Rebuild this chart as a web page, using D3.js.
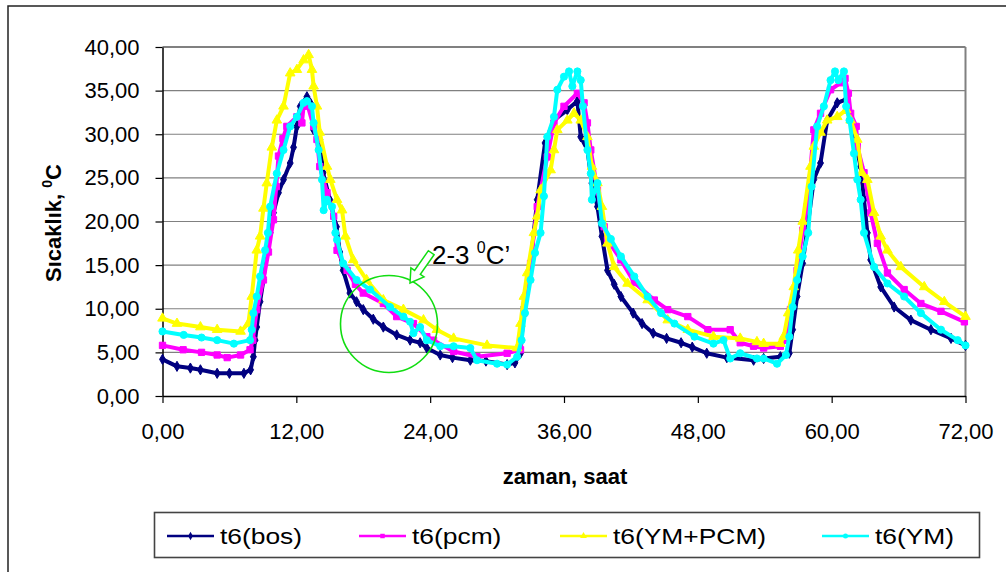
<!DOCTYPE html>
<html><head><meta charset="utf-8">
<script src="https://cdn.jsdelivr.net/npm/d3@7"></script>
<style>
html,body{margin:0;padding:0;background:#fff;}
svg text{font-family:"Liberation Sans",Arial,sans-serif;}
</style></head>
<body>
<svg id="c" width="1006" height="572"></svg>
<script>
// ---- data (time in hours, temperature in °C) ----
const xTicks = [0, 12, 24, 36, 48, 60, 72];
const yTicks = [0, 5, 10, 15, 20, 25, 30, 35, 40];
const seriesNames = ["t6(bos)", "t6(pcm)", "t6(YM+PCM)", "t6(YM)"];

const bosT = [0,1.3,2.5,3.4,4.9,6.0,7.3,7.9,8.15,8.3,8.45,8.75,9.05,9.35,9.65,9.95,10.4,10.85,11.45,11.75,12.05,12.35,12.95,13.25,13.55,14.1,14.4,15.0,15.6,15.9,16.2,16.8,17.4,18.0,18.9,19.8,21.0,22.2,23.1,23.7,24.9,26.0,27.6,29.0,30.9,31.6,32.1,32.4,33.0,33.6,34.3,35.1,36.3,37.2,37.5,38.1,38.5,39.0,39.4,39.9,40.5,41.1,42.2,43.0,44.0,45.2,46.5,47.5,48.8,50.6,53.0,53.9,55.4,56.2,56.5,56.9,57.4,57.8,58.4,59.0,59.6,60.5,61.3,61.7,62.2,62.6,62.9,63.2,63.5,64.4,65.6,67.1,68.9,70.7,72.0];
const bosV = [4.2,3.4,3.2,3.0,2.6,2.6,2.6,3.0,4.5,6.4,7.9,10.8,13.3,16.7,18.7,21.0,23.3,24.8,26.7,28.5,30.9,33.2,34.3,33.6,30.5,29.4,25.6,22.5,19.4,16.5,14.4,11.8,10.8,9.9,8.8,7.9,7.0,6.4,6.1,5.5,4.7,4.4,4.1,4.0,3.6,3.8,4.9,10.2,15.2,22.5,29.0,31.6,32.8,33.8,29.7,28.2,24.4,21.7,18.3,14.4,12.8,11.4,9.5,8.3,7.2,6.6,6.1,5.6,4.9,4.4,4.1,4.3,4.5,4.9,7.6,11.4,15.2,19.0,24.8,26.7,31.6,33.6,34.0,32.0,28.6,26.3,22.5,18.7,15.6,12.5,10.2,8.7,7.6,6.6,5.8];

const pcmT = [0,1.85,3.5,4.9,5.8,7.0,7.85,8.1,8.45,9.05,9.5,9.95,10.2,10.4,10.8,11.15,12.05,12.5,12.65,12.95,13.55,13.85,14.1,14.75,15.35,15.65,16.55,17.3,18.0,19.8,21.0,22.5,23.7,24.3,26.1,28.2,30.9,32.1,32.4,33.0,33.6,34.5,35.1,36.0,37.2,37.8,38.1,38.4,39.0,39.6,39.9,41.1,42.3,44.1,45.3,47.1,48.9,50.9,51.8,53.0,53.9,55.4,55.9,56.3,56.9,57.4,57.8,58.4,59.0,59.9,60.8,61.2,61.5,61.7,62.2,62.3,62.9,63.5,64.1,65.0,66.5,68.0,69.8,71.9];
const pcmV = [5.8,5.3,5.0,4.7,4.4,4.7,5.3,6.4,9.9,13.3,16.5,20.2,24.0,27.5,29.5,30.9,32.0,31.3,33.2,33.6,30.9,29.4,26.3,23.3,20.6,16.7,14.4,12.8,11.8,10.6,9.1,8.3,6.8,6.4,5.1,4.5,4.9,5.3,9.5,15.2,21.7,27.4,31.3,33.2,34.7,33.6,31.3,28.2,23.6,19.4,17.9,15.6,13.0,11.0,9.9,9.1,7.6,7.6,6.1,5.7,5.5,5.7,6.4,9.9,14.4,19.0,21.7,30.5,32.4,35.1,35.9,36.4,34.7,32.4,30.9,28.6,25.6,21.0,17.5,14.1,12.2,10.6,9.7,8.5];

const ympcmT = [0,1.3,3.4,4.9,7.0,7.7,8.0,8.45,8.75,9.05,9.35,9.8,10.25,10.85,11.45,12.05,12.65,13.1,13.4,13.55,13.85,14.1,14.75,15.05,15.65,16.1,16.4,17.1,18.3,19.8,21.6,23.4,24.6,26.1,29.1,31.8,32.1,32.4,32.7,33.3,33.6,33.9,34.8,35.1,35.4,36.3,36.9,37.5,38.1,38.5,39.0,39.4,39.9,40.5,41.7,43.5,45.3,47.1,49.4,51.8,53.3,53.9,55.4,55.7,56.1,56.6,57.0,57.4,58.1,58.4,59.0,59.6,60.5,61.3,61.7,62.3,62.7,63.2,63.8,64.4,65.0,66.2,68.3,70.1,72.0];
const ympcmV = [8.9,8.3,7.9,7.6,7.4,8.3,11.4,16.7,18.3,21.5,24.4,28.5,31.6,33.2,37.0,37.4,38.5,39.1,37.4,35.5,33.2,30.2,26.3,24.8,22.5,21.3,18.3,15.6,13.3,11.0,9.9,8.7,7.6,6.6,5.8,5.5,8.3,11.4,14.1,18.7,20.6,23.6,25.9,28.2,30.5,31.6,32.4,31.6,29.7,26.3,24.4,21.7,17.5,14.8,12.9,11.0,8.7,7.6,6.8,6.6,6.2,6.0,6.0,6.8,9.5,12.5,16.7,20.0,26.3,28.6,30.2,31.6,32.0,32.8,31.6,29.4,25.6,24.8,21.0,18.3,16.7,14.8,12.5,10.8,9.1];

const ymT = [0,1.9,3.5,4.9,6.4,7.85,8.0,8.15,8.45,8.75,9.2,9.45,9.65,10.25,10.85,11.45,12.05,12.65,12.95,13.4,13.55,14.0,14.3,14.45,14.75,15.2,15.5,15.65,16.2,17.4,18.6,20.4,21.6,22.2,22.5,23.1,23.7,24.9,26.1,27.6,28.2,30.0,30.9,31.8,32.2,32.5,33.0,33.4,33.9,34.2,34.5,35.1,35.4,36.0,36.45,36.75,37.2,37.5,37.7,38.1,38.4,38.5,39.0,39.4,40.2,41.1,42.3,43.5,44.7,45.9,47.7,49.4,50.3,50.9,51.8,53.3,53.9,55.1,55.9,56.2,56.5,56.9,57.4,57.9,58.2,58.7,59.3,59.9,60.3,60.6,61.1,61.3,61.6,62.0,62.3,62.6,62.9,63.8,65.0,66.5,68.0,69.8,71.3,72.0];
const ymV = [7.4,7.0,6.7,6.4,6.0,6.4,7.6,9.5,11.4,13.7,16.7,18.7,21.7,25.5,28.2,30.9,32.0,33.6,33.8,33.2,31.3,28.2,24.8,21.3,22.5,21.7,18.7,17.9,15.2,13.3,12.2,10.2,9.1,8.5,7.2,7.9,6.4,5.7,5.7,5.5,4.1,3.7,3.6,4.5,6.4,9.5,13.3,16.4,18.7,22.9,29.7,32.0,35.1,36.6,37.2,35.5,37.2,36.2,33.2,28.2,25.5,22.5,24.4,19.8,18.0,16.0,13.7,11.4,9.5,8.3,6.8,6.0,6.4,4.3,4.9,4.3,4.3,3.7,4.7,6.8,10.2,13.3,16.0,18.7,24.0,30.9,33.2,36.2,37.2,36.2,37.2,33.2,31.6,27.8,24.8,22.5,18.7,14.8,12.9,11.4,9.5,7.6,6.4,5.8];

const seriesColors = ["#000080", "#FF00FF", "#FFFF00", "#00FFFF"];
const seriesSymbols = [d3.symbolDiamond, d3.symbolSquare, d3.symbolTriangle, d3.symbolCircle];
const seriesData = [[bosT,bosV],[pcmT,pcmV],[ympcmT,ympcmV],[ymT,ymV]];

// ---- layout ----
const svg = d3.select("#c");
const X0 = 162.5, X1 = 965.5, Y0 = 396, Y1 = 47;
const x = d3.scaleLinear().domain([0,72]).range([X0,X1]);
const y = d3.scaleLinear().domain([0,40]).range([Y0,Y1]);
const fmt = d => d3.format(".2f")(d).replace(".", ",");

// outer border
svg.append("path").attr("d","M8,572 L8,6 L1006,6").attr("fill","none").attr("stroke","#222").attr("stroke-width",1.5);

// gridlines
svg.append("g").selectAll("line").data(yTicks.filter(v=>v>0)).join("line")
  .attr("x1",X0).attr("x2",X1).attr("y1",d=>y(d)).attr("y2",d=>y(d))
  .attr("stroke","#808080").attr("stroke-width",d=>d===40?2:1.2);
// right border
svg.append("line").attr("x1",X1).attr("x2",X1).attr("y1",Y1).attr("y2",Y0).attr("stroke","#808080").attr("stroke-width",2);

// axes
const ya = svg.append("g").attr("transform",`translate(${X0},0)`)
  .call(d3.axisLeft(y).tickValues(yTicks).tickFormat(fmt).tickSize(7).tickPadding(16).tickSizeOuter(0));
const xa = svg.append("g").attr("transform",`translate(0,${Y0})`)
  .call(d3.axisBottom(x).tickValues(xTicks).tickFormat(fmt).tickSize(7).tickPadding(20).tickSizeOuter(0));
[ya,xa].forEach(a=>{
  a.select(".domain").attr("stroke","#000").attr("stroke-width",1.5);
  a.selectAll(".tick line").attr("stroke","#000").attr("stroke-width",1.2);
  a.selectAll("text").attr("font-size",22).attr("fill","#000").attr("font-family","Liberation Sans, Arial, sans-serif");
});

// series
const lineGen = d3.line().x(d=>x(d[0])).y(d=>y(d[1]));
seriesData.forEach((s,i)=>{
  const pts = s[0].map((t,k)=>[t, s[1][k]]);
  const g = svg.append("g");
  g.append("path").datum(pts).attr("d",lineGen).attr("fill","none")
    .attr("stroke",seriesColors[i]).attr("stroke-width",4).attr("stroke-linejoin","round");
  g.selectAll("path.m").data(pts).join("path").attr("class","m")
    .attr("transform",d=>`translate(${x(d[0])},${y(d[1])})`)
    .attr("d",d3.symbol().type(seriesSymbols[i]).size(i===0?30:40))
    .attr("fill",seriesColors[i]).attr("stroke",seriesColors[i]).attr("stroke-width",1);
});

// axis titles
svg.append("text").attr("x",565).attr("y",484).attr("text-anchor","middle")
  .attr("font-size",22).attr("font-weight","bold").text("zaman, saat");
const yt = svg.append("text").attr("transform","translate(61,223) rotate(-90)")
  .attr("text-anchor","middle").attr("font-size",22).attr("font-weight","bold");
yt.append("tspan").text("Sıcaklık, ");
yt.append("tspan").attr("font-size",14).attr("dy",-9).text("0");
yt.append("tspan").attr("dy",9).text("C");

// annotation
const green = "#11dd11";
svg.append("circle").attr("cx",389).attr("cy",324).attr("r",48.5)
  .attr("fill","none").attr("stroke",green).attr("stroke-width",1.6);
const L=37,w=3.5,H=8,h=13;
svg.append("polygon")
  .attr("points",[[-L,-w],[-h,-w],[-h,-H],[0,0],[-h,H],[-h,w],[-L,w]].map(p=>p.join(",")).join(" "))
  .attr("transform","translate(410,283) rotate(125)")
  .attr("fill","#fff").attr("stroke",green).attr("stroke-width",1.5);
const at = svg.append("text").attr("x",432).attr("y",264).attr("font-size",26).attr("fill","#000");
at.append("tspan").text("2-3 ");
at.append("tspan").attr("font-size",16).attr("dy",-11).text("0");
at.append("tspan").attr("dy",11).text("C’");

// legend
svg.append("rect").attr("x",154.5).attr("y",512.5).attr("width",825).attr("height",45)
  .attr("fill","#fff").attr("stroke","#444").attr("stroke-width",1.6);
const legX = [167, 359, 560, 822];
seriesNames.forEach((n,i)=>{
  const g = svg.append("g").attr("transform",`translate(${legX[i]},536)`);
  g.append("line").attr("x1",0).attr("x2",47).attr("stroke",seriesColors[i]).attr("stroke-width",2.5);
  g.append("path").attr("transform","translate(23.5,0)").attr("d",d3.symbol().type(seriesSymbols[i]).size(20)).attr("fill",seriesColors[i]);
  g.append("text").attr("x",53).attr("y",8).attr("font-size",22).attr("fill","#000")
    .attr("transform","translate(53,0) scale(1.2,1) translate(-53,0)").text(n);
});
</script>
</body></html>
